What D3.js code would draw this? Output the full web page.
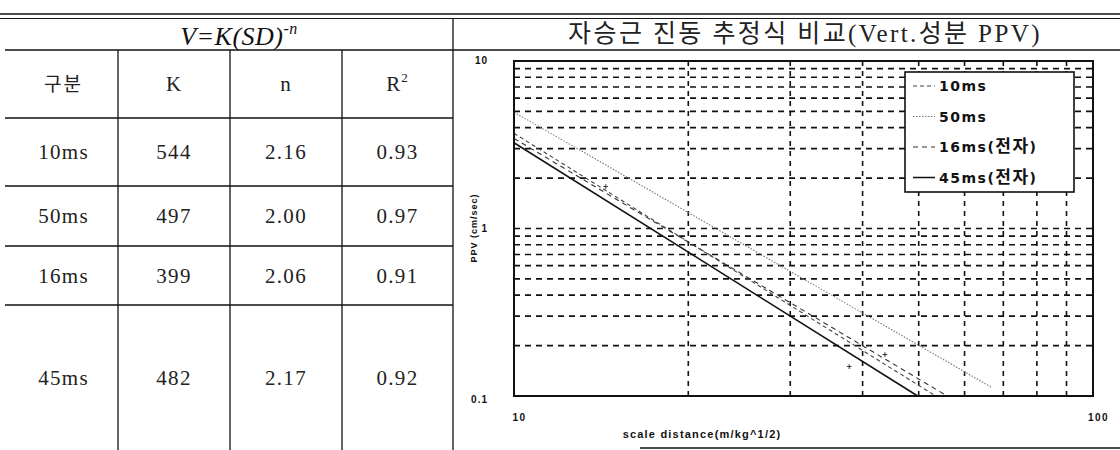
<!DOCTYPE html>
<html>
<head>
<meta charset="utf-8">
<script src="https://cdn.jsdelivr.net/npm/d3@7"></script>
<style>
  html, body { margin: 0; padding: 0; background: #fff; }
  svg { display: block; }
</style>
</head>
<body>
<svg id="c" width="1120" height="450"></svg>
<script>
// ---- Table data ----
const tableHeaders = ["구분", "K", "n", "R2"];
const delays = ["10ms", "50ms", "16ms", "45ms"];
const kValues = ["544", "497", "399", "482"];
const nValues = ["2.16", "2.00", "2.06", "2.17"];
const r2Values = ["0.93", "0.97", "0.91", "0.92"];

// ---- Chart data (straight lines on log-log axes) ----
const seriesNames = ["10ms", "50ms", "16ms(전자)", "45ms(전자)"];
const line10ms = [[10, 3.7], [53.5, 0.1]];
const line50ms = [[10, 4.95], [67, 0.112]];
const line16ms = [[10, 3.45], [56, 0.1]];
const line45ms = [[10, 3.25], [49.8, 0.1]];
const scatterPts = [[14.4, 1.78], [37.9, 0.149], [43.7, 0.175]];
const xTickValues = [10, 100];
const yTickValues = [0.1, 1, 10];
const xGridValues = [20, 30, 40, 50, 60, 70, 80, 90];
const yGridValues = [0.2, 0.3, 0.4, 0.5, 0.6, 0.7, 0.8, 0.9, 1, 2, 3, 4, 5, 6, 7, 8, 9];

const svg = d3.select("#c");
const serif = "'Liberation Serif','Times New Roman','Noto Sans CJK KR',serif";
const kor = "'Noto Sans CJK KR','Liberation Serif',serif";
const bold = "'Liberation Sans','Noto Sans CJK KR',Arial,sans-serif";
const wideBold = "'DejaVu Sans','Noto Sans CJK KR',sans-serif";

// ---- Frame lines ----
svg.append("line").attr("x1", 0).attr("x2", 1120).attr("y1", 14).attr("y2", 14).attr("stroke", "#111").attr("stroke-width", 1.5);
svg.append("line").attr("x1", 0).attr("x2", 1120).attr("y1", 18.5).attr("y2", 18.5).attr("stroke", "#111").attr("stroke-width", 1.2);
svg.append("line").attr("x1", 5).attr("x2", 1120).attr("y1", 50).attr("y2", 50).attr("stroke", "#111").attr("stroke-width", 1.3);
svg.append("line").attr("x1", 453).attr("x2", 453).attr("y1", 18).attr("y2", 450).attr("stroke", "#111").attr("stroke-width", 1.3);
svg.append("line").attr("x1", 640).attr("x2", 1120).attr("y1", 448).attr("y2", 448).attr("stroke", "#111").attr("stroke-width", 1.5);

// ---- Table ----
const colX = [5, 118, 230, 342, 453];
const rowY = [50, 118, 186, 246, 305, 450];
colX.slice(1, 4).forEach(x => {
  svg.append("line").attr("x1", x).attr("x2", x).attr("y1", 50).attr("y2", 450).attr("stroke", "#111").attr("stroke-width", 1.3);
});
rowY.slice(1, 5).forEach(y => {
  svg.append("line").attr("x1", 5).attr("x2", 453).attr("y1", y).attr("y2", y).attr("stroke", "#111").attr("stroke-width", 1.3);
});

// formula
const ft = svg.append("text").attr("x", 239).attr("y", 45).attr("text-anchor", "middle")
  .attr("font-family", serif).attr("font-style", "italic").attr("font-size", 26).attr("fill", "#111")
  .attr("letter-spacing", 0.5);
ft.append("tspan").text("V=K(SD)");
ft.append("tspan").attr("dy", -11).attr("font-size", 16).text("-n");

const colCenter = i => (colX[i] + colX[i + 1]) / 2 + (i === 0 ? 2 : 0);
const rowCenter = r => (rowY[r] + rowY[r + 1]) / 2;

// header
tableHeaders.forEach((h, i) => {
  const t = svg.append("text").attr("x", colCenter(i)).attr("y", rowCenter(0) + 7)
    .attr("text-anchor", "middle").attr("font-size", i === 0 ? 19 : 21).attr("fill", "#222")
    .attr("font-family", i === 0 ? kor : serif).attr("letter-spacing", i === 0 ? 2 : 1);
  if (h === "R2") {
    t.append("tspan").text("R");
    t.append("tspan").attr("dy", -9).attr("font-size", 13).text("2");
  } else {
    t.text(h);
  }
});
const cols = [delays, kValues, nValues, r2Values];
delays.forEach((d, r) => {
  cols.forEach((arr, i) => {
    svg.append("text").attr("x", colCenter(i)).attr("y", rowCenter(r + 1) + 7)
      .attr("text-anchor", "middle").attr("font-family", serif).attr("font-size", 21)
      .attr("letter-spacing", 1.3).attr("fill", "#222").text(arr[r]);
  });
});

// ---- Chart ----
svg.append("text").attr("x", 805).attr("y", 42).attr("text-anchor", "middle")
  .attr("font-family", serif).attr("font-size", 25).attr("fill", "#222")
  .attr("letter-spacing", 2.4)
  .text("자승근 진동 추정식 비교(Vert.성분 PPV)");

const x = d3.scaleLog().domain([10, 100]).range([514, 1093]);
const y = d3.scaleLog().domain([0.1, 10]).range([396, 61]);

// grid
const g = svg.append("g");
g.selectAll(".vg").data(xGridValues).join("line")
  .attr("x1", d => x(d)).attr("x2", d => x(d)).attr("y1", y(10)).attr("y2", y(0.1))
  .attr("stroke", "#111").attr("stroke-width", 1.6).attr("stroke-dasharray", "5,5");
g.selectAll(".hg").data(yGridValues).join("line")
  .attr("x1", x(10)).attr("x2", x(100)).attr("y1", d => y(d)).attr("y2", d => y(d))
  .attr("stroke", "#111").attr("stroke-width", 1.6).attr("stroke-dasharray", "6,5");

// series lines
const lineGen = d3.line().x(d => x(d[0])).y(d => y(d[1]));
const styles = [
  { data: line10ms, color: "#444", width: 1.1, dash: "4,3" },
  { data: line50ms, color: "#777", width: 1.1, dash: "1.5,1.5" },
  { data: line16ms, color: "#333", width: 1.1, dash: "5,4" },
  { data: line45ms, color: "#111", width: 1.5, dash: null }
];
styles.forEach(s => {
  svg.append("path").attr("d", lineGen(s.data)).attr("fill", "none")
    .attr("stroke", s.color).attr("stroke-width", s.width)
    .attr("stroke-dasharray", s.dash);
});
svg.selectAll(".pt").data(scatterPts).join("text")
  .attr("x", d => x(d[0])).attr("y", d => y(d[1]) + 3).attr("text-anchor", "middle")
  .attr("font-family", bold).attr("font-size", 9).attr("font-weight", "bold")
  .attr("fill", "#333").text("+");

// plot border
svg.append("rect").attr("x", x(10)).attr("y", y(10)).attr("width", x(100) - x(10)).attr("height", y(0.1) - y(10))
  .attr("fill", "none").attr("stroke", "#111").attr("stroke-width", 2);

// axes
const yAxis = svg.append("g").attr("transform", `translate(${x(10)},0)`)
  .call(d3.axisLeft(y).tickValues(yTickValues).tickSize(0).tickPadding(26).tickFormat(d => d === 0.1 ? "0.1" : String(d)));
yAxis.select(".domain").remove();
yAxis.selectAll("text").attr("font-family", bold).attr("font-weight", "bold").attr("font-size", 10)
  .attr("fill", "#111").attr("letter-spacing", 1);
yAxis.selectAll(".tick").filter(d => d === 10).select("text").attr("dy", "0.2em");
yAxis.selectAll(".tick").filter(d => d === 0.1).select("text").attr("dy", "0.6em");

const xAxis = svg.append("g").attr("transform", `translate(0,${y(0.1)})`)
  .call(d3.axisBottom(x).tickValues(xTickValues).tickSize(0).tickPadding(18).tickFormat(d3.format("d")));
xAxis.select(".domain").remove();
xAxis.selectAll("text").attr("font-family", bold).attr("font-weight", "bold").attr("font-size", 10)
  .attr("fill", "#111").attr("dx", 5).attr("letter-spacing", 1.5);

svg.append("text").attr("x", 702).attr("y", 438).attr("text-anchor", "middle")
  .attr("font-family", bold).attr("font-weight", "bold").attr("font-size", 11).attr("fill", "#111")
  .attr("letter-spacing", 1.2).text("scale distance(m/kg^1/2)");
svg.append("text").attr("transform", "translate(477,228) rotate(-90)").attr("text-anchor", "middle")
  .attr("font-family", bold).attr("font-weight", "bold").attr("font-size", 9).attr("fill", "#111")
  .attr("letter-spacing", 1).text("PPV (cm/sec)");

// legend
const lg = svg.append("g");
lg.append("rect").attr("x", 905).attr("y", 72).attr("width", 169).attr("height", 120)
  .attr("fill", "#fff").attr("stroke", "#111").attr("stroke-width", 1.6);
seriesNames.forEach((name, i) => {
  const yy = 86 + i * 30.5;
  const s = styles[i];
  lg.append("line").attr("x1", 913).attr("x2", 935).attr("y1", yy).attr("y2", yy)
    .attr("stroke", s.color).attr("stroke-width", s.width).attr("stroke-dasharray", s.dash);
  const m = name.match(/^([^(]+)(\(([^)]+)\))?$/);
  const t = lg.append("text").attr("x", 939).attr("y", yy + 5).attr("font-family", wideBold)
    .attr("font-weight", "bold").attr("font-size", 14).attr("fill", "#111").attr("letter-spacing", 1.5);
  t.append("tspan").text(m[1]);
  if (m[2]) {
    t.append("tspan").text("(");
    t.append("tspan").attr("font-size", 17).text(m[3]);
    t.append("tspan").text(")");
  }
});
</script>
</body>
</html>
